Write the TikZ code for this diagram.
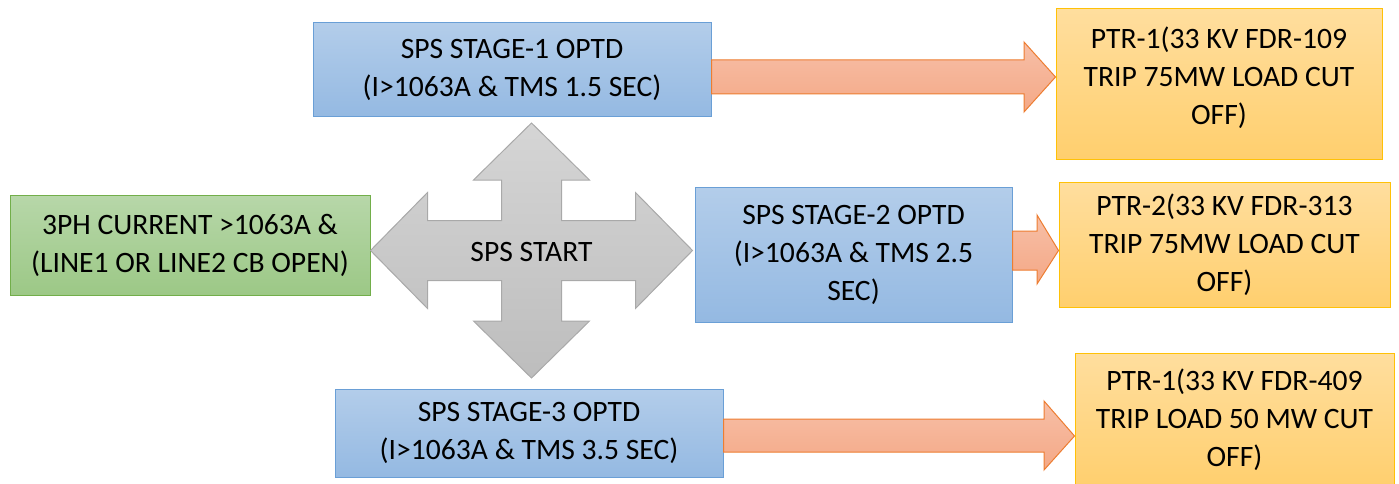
\documentclass[tikz,border=0pt]{standalone}
\usepackage{fontspec}
\setmainfont{Carlito}
\usetikzlibrary{calc}
\definecolor{bluetop}{HTML}{B3CDEA}
\definecolor{bluebot}{HTML}{94B9E2}
\definecolor{blueline}{HTML}{6A9FD6}
\definecolor{greentop}{HTML}{B7D7A9}
\definecolor{greenbot}{HTML}{9CC886}
\definecolor{greenline}{HTML}{72AE4A}
\definecolor{goldtop}{HTML}{FFDE9E}
\definecolor{goldbot}{HTML}{FFCF6E}
\definecolor{goldline}{HTML}{FFC107}
\definecolor{orangetop}{HTML}{F7BFA7}
\definecolor{orangebot}{HTML}{F4A886}
\definecolor{orangeline}{HTML}{ED7D31}
\definecolor{graytop}{HTML}{D5D5D5}
\definecolor{graybot}{HTML}{BDBDBD}
\definecolor{grayline}{HTML}{A9A9A9}
\tikzset{
  box/.style={draw, line width=1pt, rectangle, inner sep=0pt, align=center,
    font=\fontsize{29.6}{38}\selectfont, text=black},
  bluebox/.style={box, draw=blueline, top color=bluetop, bottom color=bluebot},
  greenbox/.style={box, draw=greenline, top color=greentop, bottom color=greenbot},
  goldbox/.style={box, draw=goldline, top color=goldtop, bottom color=goldbot},
  oarrow/.style={draw=orangeline, line width=1pt, line join=miter, top color=orangetop, bottom color=orangebot},
  crossarrow/.style={draw=grayline, line width=1pt, line join=miter, top color=graytop, bottom color=graybot},
  lbl/.style={font=\fontsize{29.6}{38}\selectfont, text=black, inner sep=0pt}
}
\begin{document}
\begin{tikzpicture}[x=1pt,y=-1pt]
\useasboundingbox (0,0) rectangle (1399,484);
\clip (0,0) rectangle (1399,484);

% boxes
\node[greenbox, minimum width=360pt, minimum height=100pt] (cond) at (190,245)
  {3PH CURRENT >1063A \&\\(LINE1 OR LINE2 CB OPEN)};
\node[bluebox, minimum width=398pt, minimum height=94pt] (s1) at (512,70)
  {SPS STAGE-1 OPTD\\(I>1063A \& TMS 1.5 SEC)};
\node[bluebox, minimum width=317pt, minimum height=135pt] (s2) at (853.5,254.5)
  {SPS STAGE-2 OPTD\\(I>1063A \& TMS 2.5\\SEC)};
\node[bluebox, minimum width=388pt, minimum height=88pt] (s3) at (529,433)
  {SPS STAGE-3 OPTD\\(I>1063A \& TMS 3.5 SEC)};
\node[goldbox, minimum width=326pt, minimum height=150pt] (p1) at (1219,84)
  {PTR-1(33 KV FDR-109\\TRIP 75MW LOAD CUT\\OFF)\\[-21pt]\mbox{}};
\node[goldbox, minimum width=331pt, minimum height=125pt] (p2) at (1224.5,244.5)
  {PTR-2(33 KV FDR-313\\TRIP 75MW LOAD CUT\\OFF)};
\node[goldbox, minimum width=319pt, minimum height=134pt] (p3) at (1234.5,420)
  {PTR-1(33 KV FDR-409\\TRIP LOAD 50 MW CUT\\OFF)};

% four-way cross arrow
\coordinate (c) at (531.5,250.5);
\begin{scope}[shift={(c)}]
\path[crossarrow] (0,-127.5) -- (58,-70.5) -- (30,-70.5) -- (30,-30) -- (104,-30) -- (104,-58)
  -- (161,0) -- (104,58) -- (104,30) -- (30,30) -- (30,70.5) -- (58,70.5) -- (0,127.5)
  -- (-58,70.5) -- (-30,70.5) -- (-30,30) -- (-104,30) -- (-104,58) -- (-161,0)
  -- (-104,-58) -- (-104,-30) -- (-30,-30) -- (-30,-70.5) -- (-58,-70.5) -- cycle;
\end{scope}
\node[lbl] (start) at (531.5,252) {SPS START};

% block arrows to trip boxes
\path[oarrow] (s1.east |- 0,60) -- (1024,60) -- (1024,42) -- (p1.west |- 0,77)
  -- (1024,112) -- (1024,94) -- (s1.east |- 0,94) -- cycle;
\path[oarrow] (s2.east |- 0,231) -- (1037,231) -- (1037,215) -- (p2.west |- 0,250.5)
  -- (1037,284) -- (1037,270) -- (s2.east |- 0,270) -- cycle;
\path[oarrow] (s3.east |- 0,419) -- (1044,419) -- (1044,401) -- (p3.west |- 0,436)
  -- (1044,470) -- (1044,452) -- (s3.east |- 0,452) -- cycle;
\end{tikzpicture}
\end{document}
